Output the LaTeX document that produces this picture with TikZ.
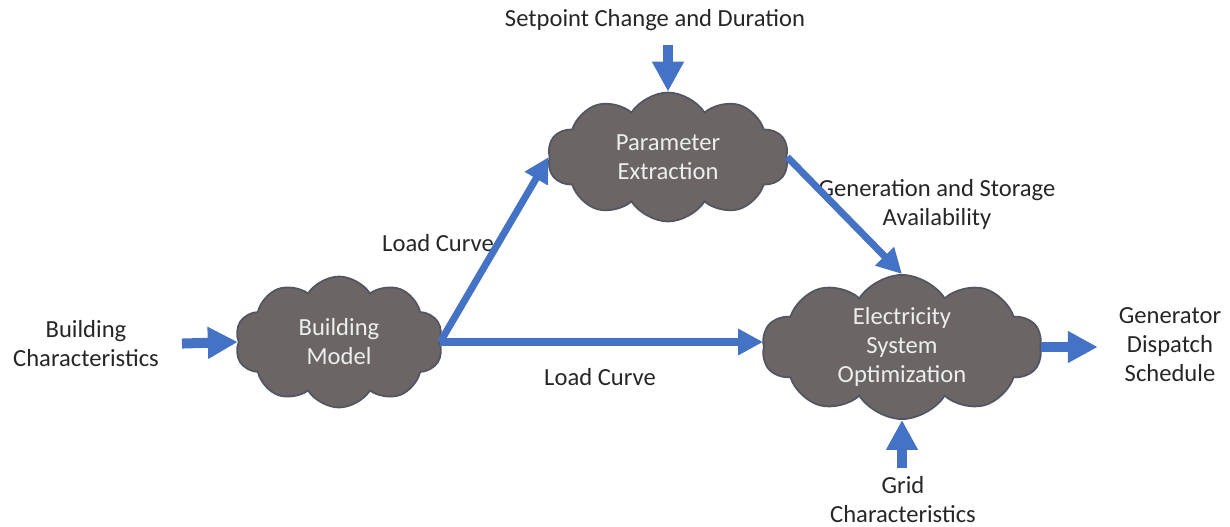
\documentclass[tikz,border=0pt]{standalone}
\usepackage{fontspec}
\setmainfont{Carlito}
\usetikzlibrary{shapes.symbols}
\usetikzlibrary{arrows.meta}

\definecolor{flowblue}{HTML}{4472C4}
\definecolor{cloudgray}{HTML}{6B6565}
\definecolor{cloudline}{HTML}{535660}
\definecolor{cloudtext}{HTML}{EEEEEE}
\definecolor{labeltext}{HTML}{262626}

\begin{document}
\begin{tikzpicture}[x=0.02cm, y=-0.02cm, font=\fontsize{14}{16.5}\selectfont]

\def\thin{4pt}    % width of the flow arrows
\def\thick{5.7pt} % width of the short input arrows

\tikzset{blob/.style = {cloud, cloud puffs=10, cloud puff arc=115, aspect=2,
                        draw=cloudline, fill=cloudgray, line width=1pt,
                        text=cloudtext, align=center, inner sep=0pt}
        }
\tikzset{flow/.style = {line width=\thin, flowblue,
                        -{Triangle[length=0.5cm, width=0.5cm]}}
        }
\tikzset{feed/.style = {line width=\thick, flowblue,
                        -{Triangle[length=0.6cm, width=0.6cm]}}
        }
\tikzset{lbl/.style = {text=labeltext, align=center}}

% frame
\useasboundingbox (0,0) rectangle (1230,527);

% clouds
\node[blob, minimum width=4.16cm, minimum height=2.62cm] (bm) at (339,342) {Building\\Model};
\node[blob, minimum width=4.82cm, minimum height=2.58cm] (pe) at (668,157) {Parameter\\Extraction};
\node[blob, minimum width=5.6cm,  minimum height=2.58cm] (eo) at (902,347) {Electricity\\System\\Optimization};

% inputs and outputs
\node[lbl] (bc) at (86,344)   {Building\\Characteristics};
\node[lbl] (sp) at (655,20)   {Setpoint Change and Duration};
\node[lbl] (gc) at (903,500)  {Grid\\Characteristics};
\node[lbl] (gd) at (1170,345) {Generator\\Dispatch\\Schedule};

% labels on the flows
\node[lbl] (lcup)  at (438,243) {Load Curve};
\node[lbl] (lclow) at (600,377) {Load Curve};
\node[lbl] (gsa)   at (937,204) {Generation and Storage\\Availability};

% short arrows
\draw[feed, shorten <=0.34cm] (bc.east) -- (bm.west);
\draw[feed, shorten <=0.16cm] (sp.south -| pe.north) -- (pe.north);
\draw[feed, shorten <=0.05cm] (gc.north -| eo.south) -- (eo.south);
\draw[feed, shorten >=0.3cm]  (eo.east) -- (eo.east -| gd.west);

% flows between the clouds
\draw[flow] (bm.east) -- (bm.east -| eo.west);
\draw[flow] (bm.east) -- (pe.west);
\draw[flow] (pe.east) -- (eo.north);

\end{tikzpicture}
\end{document}
